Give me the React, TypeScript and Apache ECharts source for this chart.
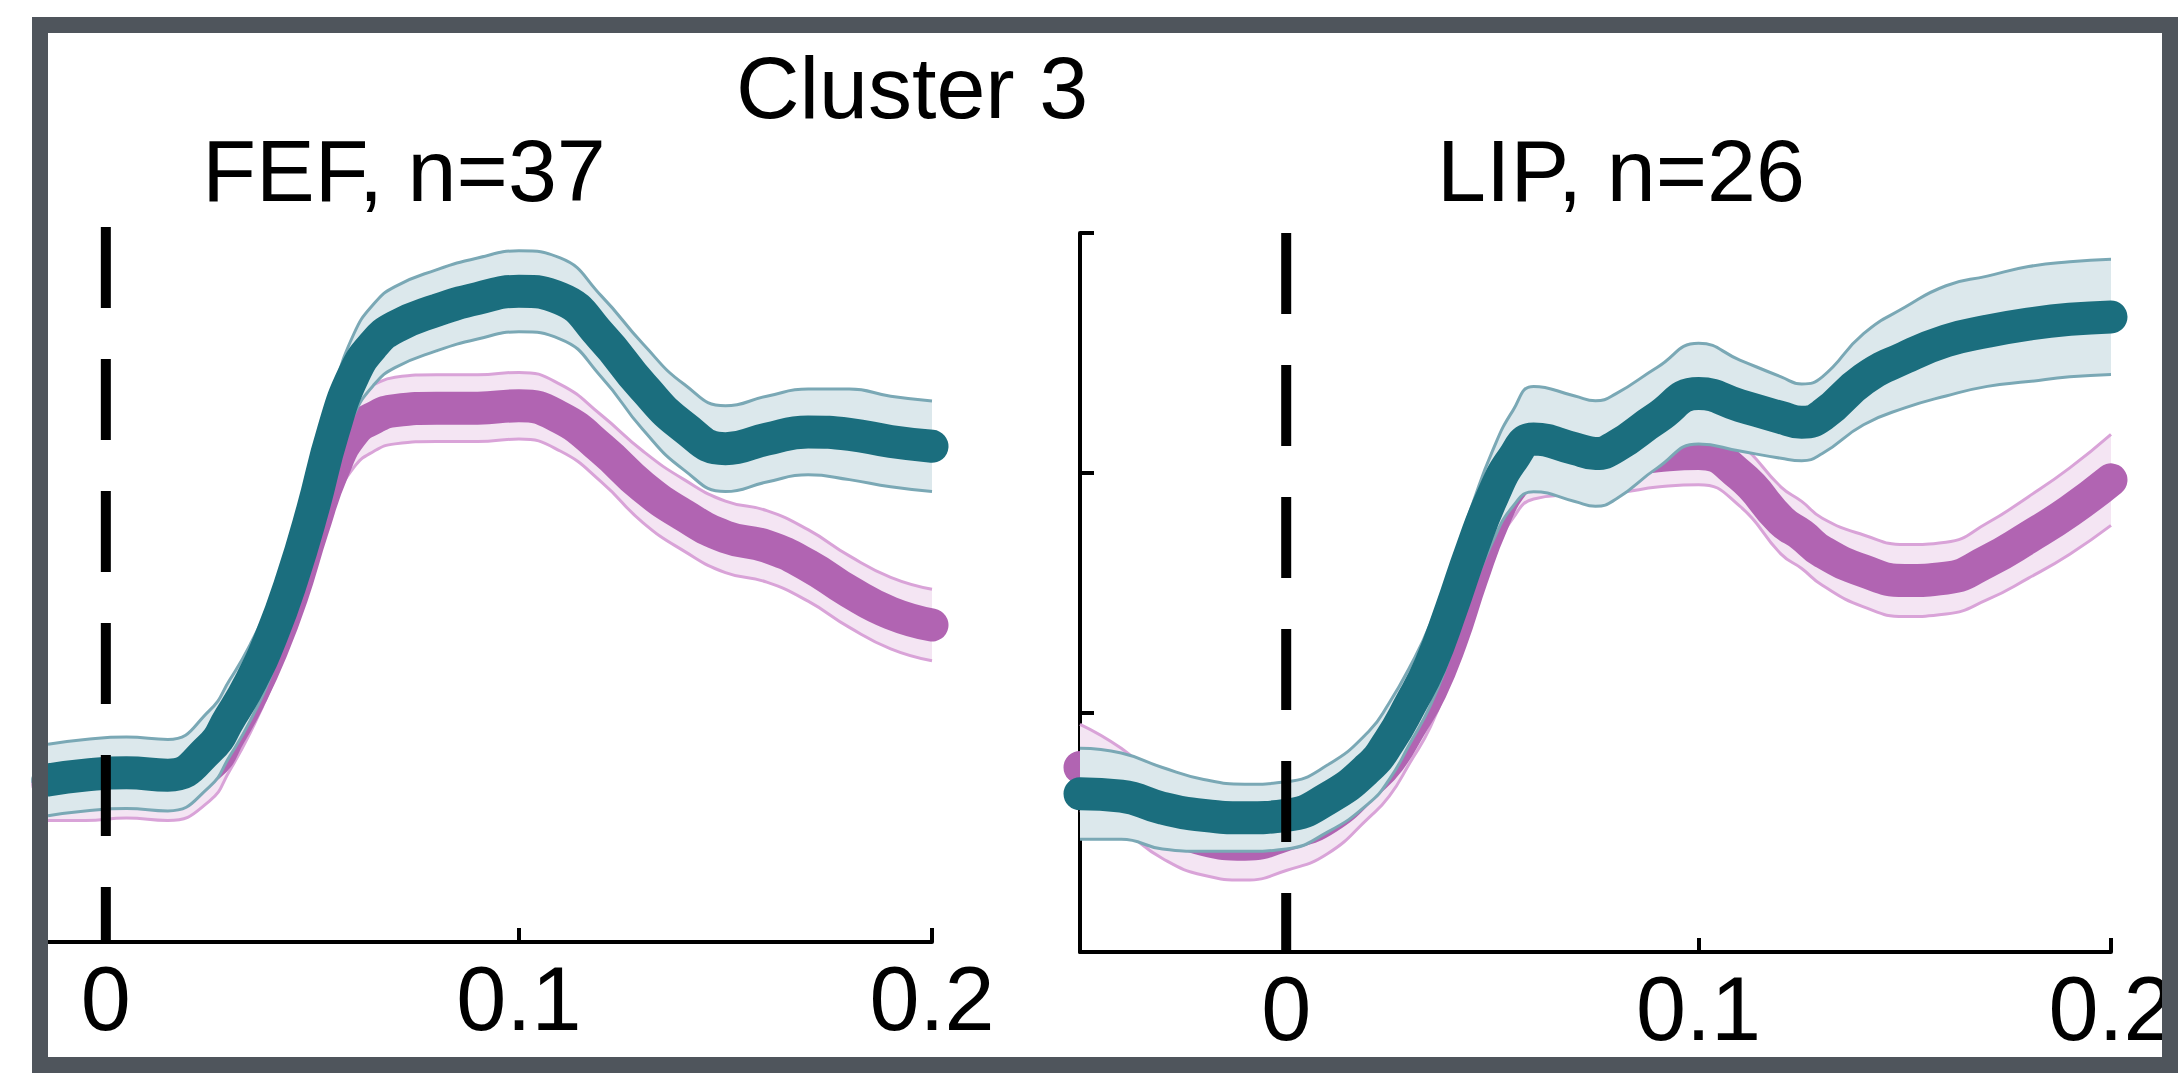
import React, { useEffect, useRef } from "react";
import * as echarts from "echarts";

// ---------- data (time in s, response in arbitrary units 0..3) ----------
const FEF_TIME = [-0.014, -0.005, 0.005, 0.015, 0.025, 0.03, 0.035, 0.04, 0.045, 0.05, 0.055, 0.06, 0.065, 0.07, 0.08, 0.09, 0.1, 0.11, 0.12, 0.13, 0.14, 0.15, 0.16, 0.17, 0.18, 0.19, 0.2];
const FEF_TEAL_MEAN = [0.68, 0.7, 0.71, 0.7, 0.81, 0.94, 1.09, 1.28, 1.52, 1.81, 2.14, 2.38, 2.51, 2.58, 2.65, 2.7, 2.73, 2.7, 2.54, 2.33, 2.16, 2.07, 2.11, 2.14, 2.13, 2.1, 2.08];
const FEF_TEAL_SEM = [0.15, 0.15, 0.15, 0.15, 0.16, 0.16, 0.16, 0.16, 0.16, 0.16, 0.16, 0.17, 0.17, 0.17, 0.17, 0.17, 0.17, 0.17, 0.17, 0.18, 0.18, 0.18, 0.18, 0.18, 0.19, 0.19, 0.19];
const FEF_PINK_MEAN = [0.66, 0.66, 0.67, 0.66, 0.74, 0.87, 1.03, 1.22, 1.45, 1.73, 1.98, 2.14, 2.2, 2.23, 2.24, 2.24, 2.25, 2.2, 2.07, 1.91, 1.79, 1.7, 1.66, 1.58, 1.47, 1.38, 1.33];
const FEF_PINK_SEM = [0.15, 0.15, 0.15, 0.15, 0.15, 0.15, 0.15, 0.15, 0.15, 0.15, 0.15, 0.15, 0.14, 0.14, 0.14, 0.14, 0.14, 0.14, 0.14, 0.15, 0.15, 0.15, 0.15, 0.15, 0.15, 0.15, 0.15];

const LIP_TIME = [-0.05, -0.04, -0.03, -0.02, -0.01, 0, 0.01, 0.02, 0.025, 0.03, 0.035, 0.04, 0.045, 0.05, 0.055, 0.06, 0.07, 0.075, 0.08, 0.09, 0.1, 0.11, 0.12, 0.125, 0.13, 0.14, 0.15, 0.16, 0.17, 0.18, 0.19, 0.2];
const LIP_TEAL_MEAN = [0.66, 0.65, 0.6, 0.57, 0.56, 0.57, 0.64, 0.77, 0.88, 1.03, 1.2, 1.43, 1.68, 1.9, 2.06, 2.14, 2.1, 2.08, 2.11, 2.23, 2.33, 2.28, 2.23, 2.21, 2.24, 2.39, 2.48, 2.55, 2.59, 2.62, 2.64, 2.65];
const LIP_TEAL_SEM = [0.19, 0.18, 0.17, 0.15, 0.14, 0.14, 0.14, 0.15, 0.16, 0.16, 0.17, 0.18, 0.18, 0.19, 0.2, 0.22, 0.22, 0.22, 0.22, 0.21, 0.21, 0.19, 0.17, 0.16, 0.16, 0.19, 0.21, 0.23, 0.23, 0.24, 0.24, 0.24];
const LIP_PINK_MEAN = [0.77, 0.68, 0.55, 0.47, 0.45, 0.49, 0.56, 0.71, 0.8, 0.94, 1.09, 1.3, 1.56, 1.79, 1.95, 2.02, 2.04, 2.05, 2.05, 2.07, 2.08, 1.99, 1.8, 1.74, 1.67, 1.59, 1.55, 1.56, 1.63, 1.73, 1.84, 1.97];
const LIP_PINK_SEM = [0.18, 0.17, 0.16, 0.15, 0.15, 0.15, 0.15, 0.15, 0.15, 0.15, 0.15, 0.14, 0.14, 0.14, 0.14, 0.13, 0.13, 0.13, 0.13, 0.13, 0.13, 0.13, 0.14, 0.14, 0.14, 0.15, 0.15, 0.15, 0.16, 0.17, 0.18, 0.19];

const X_TICKS = [0, 0.1, 0.2];
const Y_TICK_INTERVAL = 1;
const Y_MAX = 3;
const STIM_LINE = [[3, 0], [0, 0]]; // [value, time]

const MAIN_TITLE = "Cluster 3";
const PANEL_TITLES = ["FEF, n=37", "LIP, n=26"];

// ---------- styles ----------
const FONT = "'Liberation Sans', Arial, Helvetica, sans-serif";
const TEAL = { mean: "#1b6e7e", edge: "#7aa8b5", fill: "#dce8ec" };
const PINK = { mean: "#b164b2", edge: "#d9a3d8", fill: "#f4e5f3" };

// Data rows are [value, time]; encode maps time to x and value to y so that
// stacking (which acts on the first numeric dimension) stacks the values.
function groupSeries(id: string, axis: number, time: number[], mean: number[], sem: number[], c: any, z: number) {
  const common = {
    type: "line",
    xAxisIndex: axis,
    yAxisIndex: axis,
    symbol: "none",
    smooth: 0.5,
    silent: true,
    encode: { x: 1, y: 0 },
  };
  const lower = time.map((t, i) => [mean[i] - sem[i], t]);
  const upper = time.map((t, i) => [mean[i] + sem[i], t]);
  const width = time.map((t, i) => [2 * sem[i], t]);
  return [
    { ...common, name: id + "-base", data: lower, stack: id, lineStyle: { opacity: 0, width: 0 }, z },
    { ...common, name: id + "-band", data: width, stack: id, lineStyle: { opacity: 0, width: 0 }, areaStyle: { color: c.fill, opacity: 1 }, z },
    { ...common, name: id + "-up", data: upper, lineStyle: { color: c.edge, width: 3 }, z: z + 1 },
    { ...common, name: id + "-lo", data: lower, lineStyle: { color: c.edge, width: 3 }, z: z + 1 },
    {
      ...common,
      name: id + "-mean",
      data: time.map((t, i) => [mean[i], t]),
      lineStyle: { color: c.mean, width: 33, cap: "round", join: "round" },
      clip: false,
      z: z + 2,
    },
  ];
}

function xAxis(gridIndex: number, min: number) {
  return {
    gridIndex,
    type: "value",
    min,
    max: 0.2,
    axisLine: { show: true, onZero: false, lineStyle: { color: "#000", width: 4 } },
    axisTick: { show: true, inside: true, length: 14, lineStyle: { color: "#000", width: 4 }, customValues: X_TICKS },
    axisLabel: {
      show: true,
      customValues: X_TICKS,
      formatter: (v: number) => String(v),
      fontSize: 90,
      color: "#000",
      fontFamily: FONT,
      margin: 12,
    },
    splitLine: { show: false },
  };
}

function stimLine(axis: number) {
  return {
    type: "line",
    xAxisIndex: axis,
    yAxisIndex: axis,
    data: STIM_LINE,
    encode: { x: 1, y: 0 },
    symbol: "none",
    silent: true,
    lineStyle: { color: "#000", width: 10, type: [81, 51] },
    z: 20,
  };
}

export default function App() {
  const ref = useRef<HTMLDivElement>(null);
  useEffect(() => {
    if (!ref.current) return;
    const chart = echarts.init(ref.current, null, { renderer: "svg" });
    const option: any = {
      animation: false,
      backgroundColor: "#ffffff",
      grid: [
        { left: 48, top: 227, width: 884, height: 715 },
        { left: 1080, top: 233, width: 1031, height: 719 },
      ],
      xAxis: [xAxis(0, -0.014), xAxis(1, -0.05)],
      yAxis: [
        { gridIndex: 0, type: "value", min: 0, max: Y_MAX, show: false },
        {
          gridIndex: 1,
          type: "value",
          min: 0,
          max: Y_MAX,
          interval: Y_TICK_INTERVAL,
          axisLine: { show: true, onZero: false, lineStyle: { color: "#000", width: 4 } },
          axisTick: { show: true, inside: true, length: 14, lineStyle: { color: "#000", width: 4 } },
          axisLabel: { show: false },
          splitLine: { show: false },
        },
      ],
      graphic: [
        {
          type: "rect",
          z: 100,
          silent: true,
          shape: { x: 40, y: 25, width: 2130, height: 1040 },
          style: { fill: "none", stroke: "#4f555c", lineWidth: 16 },
        },
        {
          type: "text",
          z: 100,
          x: 912,
          y: 87,
          style: { text: MAIN_TITLE, font: `88px ${FONT}`, fill: "#000", textAlign: "center", textVerticalAlign: "middle" },
        },
        {
          type: "text",
          z: 100,
          x: 404,
          y: 170,
          style: { text: PANEL_TITLES[0], font: `88px ${FONT}`, fill: "#000", textAlign: "center", textVerticalAlign: "middle" },
        },
        {
          type: "text",
          z: 100,
          x: 1621,
          y: 170,
          style: { text: PANEL_TITLES[1], font: `88px ${FONT}`, fill: "#000", textAlign: "center", textVerticalAlign: "middle" },
        },
      ],
      series: [
        ...groupSeries("fefPink", 0, FEF_TIME, FEF_PINK_MEAN, FEF_PINK_SEM, PINK, 2),
        ...groupSeries("fefTeal", 0, FEF_TIME, FEF_TEAL_MEAN, FEF_TEAL_SEM, TEAL, 6),
        stimLine(0),
        ...groupSeries("lipPink", 1, LIP_TIME, LIP_PINK_MEAN, LIP_PINK_SEM, PINK, 2),
        ...groupSeries("lipTeal", 1, LIP_TIME, LIP_TEAL_MEAN, LIP_TEAL_SEM, TEAL, 6),
        stimLine(1),
      ],
    };
    chart.setOption(option);
    return () => chart.dispose();
  }, []);
  return <div ref={ref} style={{ position: "fixed", left: 0, top: 0, width: 2183, height: 1073 }} />;
}
